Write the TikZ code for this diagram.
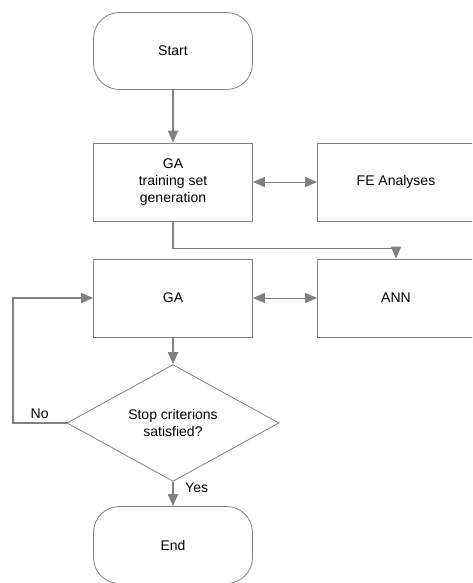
\documentclass[tikz,border=0pt]{standalone}
\usepackage{fontspec}
\setmainfont{Liberation Sans}
\usetikzlibrary{shapes.geometric,arrows.meta}

\begin{document}
\begin{tikzpicture}[x=1pt, y=-1pt, font=\fontsize{14}{17}\selectfont,
    box/.style={draw=gray, line width=0.8pt, minimum width=159pt, minimum height=78pt, inner sep=0pt, align=center},
    term/.style={box, rounded corners=26pt, minimum height=77pt},
    cond/.style={draw=gray, line width=0.8pt, diamond, minimum width=212pt, minimum height=104pt, inner sep=0pt, align=center},
    flow/.style={draw=gray, line width=1.8pt, -{Triangle[length=12pt,width=10pt]}},
    twoway/.style={flow, line width=1pt, {Triangle[length=12pt,width=10pt]}-{Triangle[length=12pt,width=10pt]}}]
    \useasboundingbox (0,0) rectangle (472,583);
    \clip (0,0) rectangle (472,583);
    \node[term] (start) at (173,51) {Start};
    \node[box, below of=start, node distance=131pt] (tsgen) {GA\\training set\\generation};
    \node[box, right of=tsgen, node distance=223pt, minimum width=157pt] (fea) {FE Analyses};
    \node[box, below of=tsgen, node distance=116pt] (ga) {GA};
    \node[box, right of=ga, node distance=223pt, minimum width=157pt] (ann) {ANN};
    \node[cond, below of=ga, node distance=125pt] (stop) {Stop criterions\\satisfied?};
    \node[term, below of=stop, node distance=122pt] (end) {End};
    \draw[flow] (start) -- (tsgen);
    \draw[twoway] (tsgen) -- (fea);
    \draw[flow] (tsgen.south) -- ++(0,27) -| (ann.north);
    \draw[twoway] (ga) -- (ann);
    \draw[flow] (ga) -- (stop);
    \draw[flow] (stop.west) -- node[above] {No} ++(-54,0) |- (ga.west);
    \draw[flow] (stop.south) -- node[right=8pt, pos=0.25] {Yes} (end.north);
\end{tikzpicture}
\end{document}
